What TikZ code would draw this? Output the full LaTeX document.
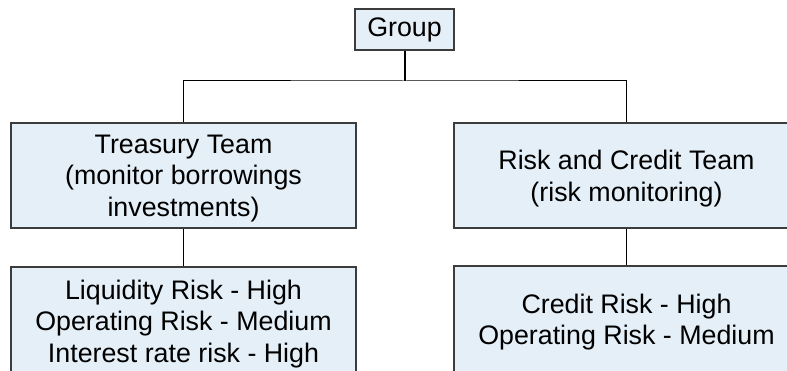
\documentclass[tikz,border=0pt]{standalone}
\usepackage{fontspec}
\setmainfont{Liberation Sans}
\definecolor{boxfill}{RGB}{228,239,247}
\definecolor{boxline}{RGB}{60,60,60}
\tikzset{
  box/.style={draw=boxline, line width=1.3pt, fill=boxfill, align=center,
    inner sep=0pt, font=\fontsize{26.8}{31.5}\selectfont},
  boxtext/.style={label={[align=center, inner sep=0pt, yshift=-3pt,
    font=\fontsize{26.8}{31.5}\selectfont]center:#1}},
  conn/.style={draw=black, line width=1pt},
  connthick/.style={draw=black, line width=2pt}
}
\begin{document}
\begin{tikzpicture}[x=1pt,y=-1pt]
\clip (0,0) rectangle (787,371);
\fill[white] (0,0) rectangle (787,371);
\node[box, minimum width=99pt, minimum height=41pt] (g) at (404.5,29.5) {Group};
\node[box, minimum width=345pt, minimum height=105pt,
  boxtext={Treasury Team\\(monitor borrowings\\investments)}] (t) at (183.5,175.5) {};
\node[box, minimum width=345pt, minimum height=105pt,
  boxtext={Risk and Credit Team\\(risk monitoring)}] (r) at (626.5,175.5) {};
\node[box, minimum width=345pt, minimum height=108pt,
  boxtext={Liquidity Risk - High\\Operating Risk - Medium\\Interest rate risk - High}] (tl) at (183.5,321) {};
\node[box, minimum width=345pt, minimum height=106pt,
  boxtext={Credit Risk - High\\Operating Risk - Medium}] (rl) at (626.5,319) {};
\coordinate (j) at (404.5,81);
\draw[connthick] (g.south) -- (j);
\draw[conn] (t.north) |- (j) -| (r.north);
\draw[conn] (t.south) -- (tl.north);
\draw[conn] (r.south) -- (rl.north);
\end{tikzpicture}
\end{document}
